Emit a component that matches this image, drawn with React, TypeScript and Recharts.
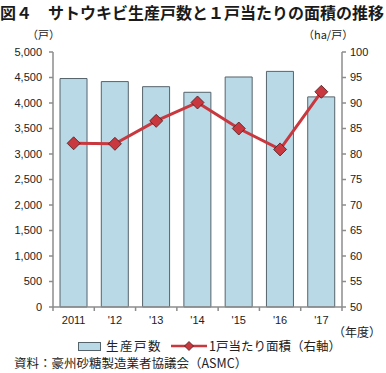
import { ComposedChart, Bar, Line, XAxis, YAxis } from 'recharts';

const years = ['2011', "'12", "'13", "'14", "'15", "'16", "'17"];
const households = [4480, 4420, 4320, 4210, 4510, 4620, 4120];
const areaPerHousehold = [82.1, 82.0, 86.5, 90.1, 85.0, 80.9, 92.2];
const leftTicks = [0, 500, 1000, 1500, 2000, 2500, 3000, 3500, 4000, 4500, 5000];
const rightTicks = [50, 55, 60, 65, 70, 75, 80, 85, 90, 95, 100];

const data = years.map((year, i) => ({
  year,
  households: households[i],
  area: areaPerHousehold[i],
}));

const FONT = '"Liberation Sans", Arial, "Noto Sans CJK JP", sans-serif';
const JP = '"Noto Sans CJK JP", sans-serif';
const TEXT = '#222';
const AXIS = '#8c8c8c';
const BAR_FILL = '#b9d9e7';
const BAR_STROKE = '#55636b';
const LINE = '#c8383e';

const PLOT_LEFT = 53;
const PLOT_RIGHT = 342;
const STEP = (PLOT_RIGHT - PLOT_LEFT) / years.length;

const XTick = (props: any) => {
  const { x, y, payload, index } = props;
  return (
    <g>
      <line x1={x + STEP / 2} y1={y} x2={x + STEP / 2} y2={y + 4} stroke={AXIS} strokeWidth={1.5} />
      {index === 0 && <line x1={x - STEP / 2} y1={y} x2={x - STEP / 2} y2={y + 4} stroke={AXIS} strokeWidth={1.5} />}
      <text x={x} y={y + 17} textAnchor="middle" fontSize={11} fill={TEXT} fontFamily={FONT}>
        {payload.value}
      </text>
    </g>
  );
};

const Diamond = (props: any) => {
  const { cx, cy } = props;
  if (cx == null || cy == null) return null;
  const r = 6.5;
  return (
    <path
      d={`M${cx},${cy - r}L${cx + r},${cy}L${cx},${cy + r}L${cx - r},${cy}Z`}
      fill={LINE}
      stroke="#4a1c1c"
      strokeWidth={0.8}
    />
  );
};

const textStyle = (left: number, top: number, size: number): React.CSSProperties => ({
  position: 'absolute',
  left,
  top,
  fontFamily: JP,
  fontSize: size,
  lineHeight: 1,
  color: TEXT,
  whiteSpace: 'nowrap',
});

export default function App() {
  return (
    <div style={{ position: 'absolute', left: 0, top: 0, width: 386, height: 373, background: '#fff', overflow: 'hidden' }}>
      <div style={{ ...textStyle(0, 4, 16), fontWeight: 700, color: '#1a1a1a' }}>
        図４　サトウキビ生産戸数と１戸当たりの面積の推移
      </div>
      <div style={textStyle(27, 29, 11)}>（戸）</div>
      <div style={textStyle(303, 29, 11)}>（ha/戸）</div>
      <div style={textStyle(333, 326, 12)}>（年度）</div>
      <div style={{ ...textStyle(78, 340, 12.5), display: 'flex', alignItems: 'center', height: 12 }}>
        <span style={{ display: 'inline-block', width: 21, height: 7, background: BAR_FILL, border: `1px solid ${BAR_STROKE}`, marginRight: 5 }} />
        <span style={{ letterSpacing: 1.5 }}>生産戸数</span>
        <svg width={38} height={12} style={{ marginLeft: 8, marginRight: 1 }}>
          <line x1={1} y1={6} x2={37} y2={6} stroke={LINE} strokeWidth={2.5} />
          <path d="M19,1.5L23.5,6L19,10.5L14.5,6Z" fill={LINE} stroke="#4a1c1c" strokeWidth={0.8} />
        </svg>
        <span>1戸当たり面積（右軸）</span>
      </div>
      <div style={textStyle(14, 357, 12.5)}>資料：豪州砂糖製造業者協議会（ASMC）</div>
      <ComposedChart
        width={386}
        height={373}
        data={data}
        margin={{ top: 52, right: 0, left: 8, bottom: 46 }}
        barCategoryGap="17%"
      >
        <XAxis
          dataKey="year"
          tick={<XTick />}
          tickLine={false}
          tickSize={0}
          tickMargin={0}
          height={20}
          interval={0}
          stroke={AXIS}
          strokeWidth={1.5}
        />
        <YAxis
          yAxisId="left"
          domain={[0, 5000]}
          ticks={leftTicks}
          width={45}
          interval={0}
          tickSize={4}
          tickMargin={7}
          tickFormatter={(v: number) => v.toLocaleString('en-US')}
          tick={{ fontSize: 11, fill: TEXT, fontFamily: FONT }}
          stroke={AXIS}
          strokeWidth={1.5}
        />
        <YAxis
          yAxisId="right"
          orientation="right"
          domain={[50, 100]}
          ticks={rightTicks}
          width={44}
          interval={0}
          tickSize={4}
          tickMargin={4}
          tick={{ fontSize: 11, fill: TEXT, fontFamily: FONT }}
          stroke={AXIS}
          strokeWidth={1.5}
        />
        <Bar
          yAxisId="left"
          dataKey="households"
          name="生産戸数"
          fill={BAR_FILL}
          stroke={BAR_STROKE}
          strokeWidth={1}
          isAnimationActive={false}
        />
        <Line
          yAxisId="right"
          dataKey="area"
          name="1戸当たり面積（右軸）"
          stroke={LINE}
          strokeWidth={3}
          dot={<Diamond />}
          activeDot={false}
          isAnimationActive={false}
        />
      </ComposedChart>
    </div>
  );
}
